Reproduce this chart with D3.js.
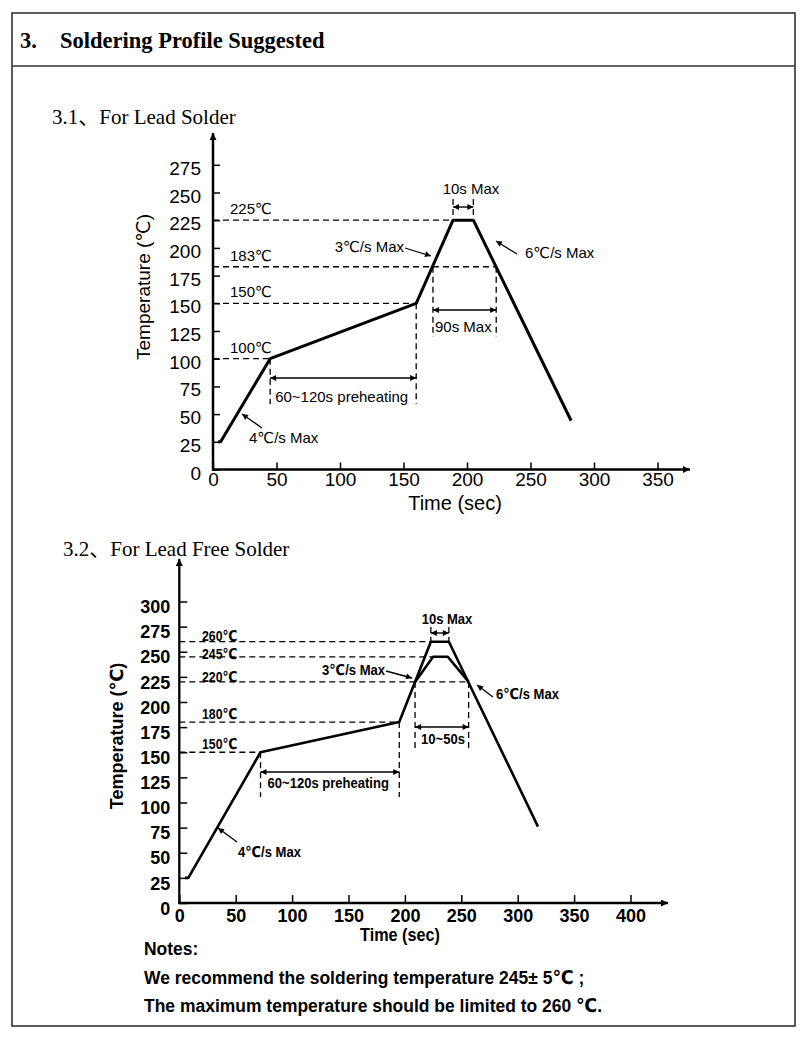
<!DOCTYPE html>
<html><head><meta charset="utf-8">
<script src="https://cdn.jsdelivr.net/npm/d3@7/dist/d3.min.js"></script>
<style>body{margin:0;background:#fff}svg{display:block}</style>
</head><body>
<svg id="c" width="800" height="1038"></svg>
<script>
// ---------------- DATA ----------------
// 3.1 Lead solder
const leadYTicks = [0, 25, 50, 75, 100, 125, 150, 175, 200, 225, 250, 275];
const leadXTicks = [0, 50, 100, 150, 200, 250, 300, 350];
const leadTime = [4, 6, 45, 160, 189, 205, 282];
const leadTemp = [25, 25, 100, 150, 225, 225, 44];
const leadGuideTemps = [225, 183, 150, 100];
const leadGuideEnds = [189, 223, 160, 45];
const leadGuideLabels = ["225℃", "183℃", "150℃", "100℃"];
const leadPreheat = [45, 160];      // s
const leadLiquidus = [173.2, 223];  // s, 183℃ crossings
const leadPeak = [189, 205];        // s
const leadTexts = ["60~120s preheating", "90s Max", "10s Max", "3℃/s Max", "6℃/s Max", "4℃/s Max"];

// 3.2 Lead free solder
const freeYTicks = [0, 25, 50, 75, 100, 125, 150, 175, 200, 225, 250, 275, 300];
const freeXTicks = [0, 50, 100, 150, 200, 250, 300, 350, 400];
const freeOuterTime = [5, 8, 72, 195, 223, 239, 318];
const freeOuterTemp = [25, 25, 150, 180, 260, 260, 76];
const freeInnerTime = [209, 225, 238, 256.5];
const freeInnerTemp = [220, 245, 245, 220];
const freeGuideTemps = [260, 245, 220, 180, 150];
const freeGuideEnds = [223, 225, 256.5, 195, 72];
const freeGuideLabels = ["260℃", "245℃", "220℃", "180℃", "150℃"];
const freePreheat = [72, 195];
const freeLiquidus = [209, 256.5];
const freePeak = [223, 239];
const freeTexts = ["60~120s preheating", "10~50s", "10s Max", "3℃/s Max", "6℃/s Max", "4℃/s Max"];

const notes = ["Notes:", "We recommend the soldering temperature 245± 5℃ ;", "The maximum temperature should be limited to 260 ℃."];

// ---------------- DRAW ----------------
const svg = d3.select('#c');
const defs = svg.append('defs');
function marker(id, w, h) {
  defs.append('marker').attr('id', id).attr('viewBox', '0 0 10 10')
    .attr('refX', 10).attr('refY', 5).attr('markerUnits', 'userSpaceOnUse')
    .attr('markerWidth', w).attr('markerHeight', h).attr('orient', 'auto-start-reverse')
    .append('path').attr('d', 'M0,0L10,5L0,10z').attr('fill', '#000');
}
marker('ax', 10, 7); marker('dim', 7, 6);

const SANS = "'Liberation Sans', Arial, 'DejaVu Sans', sans-serif";
const SERIF = "'Liberation Serif', 'Times New Roman', 'Noto Sans CJK SC', serif";

// frame
svg.append('rect').attr('x', 12).attr('y', 13).attr('width', 783).attr('height', 1013)
  .attr('fill', 'none').attr('stroke', '#333').attr('stroke-width', 1.6);
svg.append('line').attr('x1', 12).attr('x2', 795).attr('y1', 66).attr('y2', 66)
  .attr('stroke', '#333').attr('stroke-width', 1.6);
const hdr = svg.append('text').attr('y', 48).attr('font-family', SERIF).attr('font-weight', 'bold')
  .attr('font-size', 22.5);
hdr.append('tspan').attr('x', 20).text('3.');
hdr.append('tspan').attr('x', 60).text('Soldering Profile Suggested');

function hline(g, x1, x2, yy) {
  g.append('line').attr('x1', x1).attr('x2', x2).attr('y1', yy).attr('y2', yy)
    .attr('stroke', '#000').attr('stroke-width', 1.3).attr('stroke-dasharray', '6,4');
}
function vline(g, xx, y1, y2) {
  g.append('line').attr('x1', xx).attr('x2', xx).attr('y1', y1).attr('y2', y2)
    .attr('stroke', '#000').attr('stroke-width', 1.3).attr('stroke-dasharray', '6,4');
}
function dimArrow(g, x1, x2, yy) {
  g.append('line').attr('x1', x1).attr('x2', x2).attr('y1', yy).attr('y2', yy)
    .attr('stroke', '#000').attr('stroke-width', 1.4)
    .attr('marker-start', 'url(#dim)').attr('marker-end', 'url(#dim)');
}
function pointer(g, x1, y1, x2, y2) {
  g.append('line').attr('x1', x1).attr('y1', y1).attr('x2', x2).attr('y2', y2)
    .attr('stroke', '#000').attr('stroke-width', 1.3).attr('marker-end', 'url(#dim)');
}
function label(g, txt, xx, yy, opt) {
  const sx = opt.sx || 1;
  return g.append('text').attr('x', 0).attr('y', 0).text(txt)
    .attr('transform', `translate(${xx},${yy}) scale(${sx},1)`)
    .attr('font-family', opt.family).attr('font-size', opt.size)
    .attr('font-weight', opt.weight || 'normal').attr('text-anchor', opt.anchor || 'start')
    .attr('fill', '#000');
}

// ===== Chart 1 =====
{
  const g = svg.append('g');
  const x = d3.scaleLinear().domain([0, 350]).range([213, 657.5]);
  const y = d3.scaleLinear().domain([0, 275]).range([469.5, 164.8]);
  const f = {family: SANS, size: 15};

  label(g, '3.1、For Lead Solder', 52, 124, {family: SERIF, size: 21});

  leadGuideTemps.forEach((t, i) => {
    hline(g, x(0), x(leadGuideEnds[i]), y(t));
    label(g, leadGuideLabels[i], 230, y(t) - 6, f);
  });
  vline(g, x(leadPreheat[0]), y(100), 404);
  vline(g, x(leadPreheat[1]), y(150), 404);
  dimArrow(g, x(leadPreheat[0]), x(leadPreheat[1]), 378);
  label(g, leadTexts[0], x(leadPreheat[0]) + 5, 402, f);

  vline(g, x(leadLiquidus[0]), y(183), 337);
  vline(g, x(leadLiquidus[1]), y(183), 337);
  dimArrow(g, x(leadLiquidus[0]), x(leadLiquidus[1]), 310);
  label(g, leadTexts[1], x(leadLiquidus[0]) + 2, 332, f);

  vline(g, x(leadPeak[0]), 199, y(225));
  vline(g, x(leadPeak[1]), 199, y(225));
  dimArrow(g, x(leadPeak[0]), x(leadPeak[1]), 207);
  label(g, leadTexts[2], 471, 194, {family: SANS, size: 15, anchor: 'middle'});

  label(g, leadTexts[3], 404, 252, {family: SANS, size: 15, anchor: 'end'});
  pointer(g, 405, 248, 431, 256);
  label(g, leadTexts[4], 525, 258, f);
  pointer(g, 517, 254, 496, 241);
  label(g, leadTexts[5], 249, 443, f);
  pointer(g, 262, 428, 242, 414);

  const pts = leadTime.map((t, i) => [t, leadTemp[i]]);
  g.append('path').attr('d', d3.line().x(d => x(d[0])).y(d => y(d[1]))(pts))
    .attr('fill', 'none').attr('stroke', '#000').attr('stroke-width', 3).attr('stroke-linejoin', 'round');

  const ya = g.append('g').attr('transform', `translate(${x(0)},0)`)
    .call(d3.axisLeft(y).tickValues(leadYTicks).tickSize(-7).tickPadding(12));
  const xa = g.append('g').attr('transform', `translate(0,${y(0)})`)
    .call(d3.axisBottom(x).tickValues(leadXTicks).tickSize(-7).tickPadding(3));
  [ya, xa].forEach(a => {
    a.select('.domain').remove();
    a.selectAll('line').attr('stroke', '#000').attr('stroke-width', 1.5);
    a.selectAll('text').attr('font-family', SANS).attr('font-size', 19).attr('fill', '#000');
  });
  ya.selectAll('text').attr('dy', '0.5em');
  g.append('line').attr('x1', x(0)).attr('x2', x(0)).attr('y1', y(0) + 1).attr('y2', 133)
    .attr('stroke', '#000').attr('stroke-width', 2.5).attr('marker-end', 'url(#ax)');
  g.append('line').attr('x1', x(0) - 1).attr('x2', 690).attr('y1', y(0)).attr('y2', y(0))
    .attr('stroke', '#000').attr('stroke-width', 2.5).attr('marker-end', 'url(#ax)');
  label(g, 'Time (sec)', 455, 510, {family: SANS, size: 20, anchor: 'middle'});
  label(g, 'Temperature (℃)', 0, 0, {family: SANS, size: 19, anchor: 'middle'})
    .attr('transform', 'translate(150,287) rotate(-90)');
}

// ===== Chart 2 =====
{
  const g = svg.append('g');
  const x = d3.scaleLinear().domain([0, 400]).range([179.3, 630.5]);
  const y = d3.scaleLinear().domain([0, 300]).range([903, 601.5]);
  const N = 0.87;
  const f = {family: SANS, size: 15, weight: 'bold', sx: N};

  label(g, '3.2、For Lead Free Solder', 63, 556, {family: SERIF, size: 21});

  const labelDy = [-1, 2.5, 0.5, -3, -3];
  freeGuideTemps.forEach((t, i) => {
    hline(g, x(0), x(freeGuideEnds[i]), y(t));
    label(g, freeGuideLabels[i], 202, y(t) + labelDy[i], {family: SANS, size: 15, weight: 'bold', sx: 0.82});
  });
  vline(g, x(freePreheat[0]), y(150), 797);
  vline(g, x(freePreheat[1]), y(180), 797);
  dimArrow(g, x(freePreheat[0]), x(freePreheat[1]), 772);
  label(g, freeTexts[0], x(freePreheat[0]) + 7, 788, f);

  vline(g, x(freeLiquidus[0]), y(220), 748);
  vline(g, x(freeLiquidus[1]), y(220), 748);
  dimArrow(g, x(freeLiquidus[0]), x(freeLiquidus[1]), 727);
  label(g, freeTexts[1], x(freeLiquidus[0]) + 6, 744, f);

  vline(g, x(freePeak[0]), 627, y(260));
  vline(g, x(freePeak[1]), 627, y(260));
  dimArrow(g, x(freePeak[0]), x(freePeak[1]), 633);
  label(g, freeTexts[2], 447, 624, {family: SANS, size: 15, weight: 'bold', anchor: 'middle', sx: N});

  label(g, freeTexts[3], 385, 675, {family: SANS, size: 15, weight: 'bold', anchor: 'end', sx: N});
  pointer(g, 386, 671, 412, 678);
  label(g, freeTexts[4], 496, 699, f);
  pointer(g, 493, 697, 477, 685);
  label(g, freeTexts[5], 238, 857, f);
  pointer(g, 237, 842, 218, 828);

  const line = d3.line().x(d => x(d[0])).y(d => y(d[1]));
  const outer = freeOuterTime.map((t, i) => [t, freeOuterTemp[i]]);
  const inner = freeInnerTime.map((t, i) => [t, freeInnerTemp[i]]);
  [outer, inner].forEach(p => g.append('path').attr('d', line(p)).attr('fill', 'none')
    .attr('stroke', '#000').attr('stroke-width', 2.6).attr('stroke-linejoin', 'round'));

  const ya = g.append('g').attr('transform', `translate(${x(0)},0)`)
    .call(d3.axisLeft(y).tickValues(freeYTicks).tickSize(-8).tickPadding(9));
  const xa = g.append('g').attr('transform', `translate(0,${y(0)})`)
    .call(d3.axisBottom(x).tickValues(freeXTicks).tickSize(-8).tickPadding(6));
  [ya, xa].forEach(a => {
    a.select('.domain').remove();
    a.selectAll('line').attr('stroke', '#000').attr('stroke-width', 1.5);
    a.selectAll('text').attr('font-family', SANS).attr('font-size', 18).attr('font-weight', 'bold').attr('fill', '#000');
  });
  ya.selectAll('text').attr('dy', '0.62em');
  g.append('line').attr('x1', x(0)).attr('x2', x(0)).attr('y1', y(0) + 1).attr('y2', 559)
    .attr('stroke', '#000').attr('stroke-width', 2.3).attr('marker-end', 'url(#ax)');
  g.append('line').attr('x1', x(0) - 1).attr('x2', 668).attr('y1', y(0)).attr('y2', y(0))
    .attr('stroke', '#000').attr('stroke-width', 2.3).attr('marker-end', 'url(#ax)');
  label(g, 'Time (sec)', 400, 941, {family: SANS, size: 18, weight: 'bold', anchor: 'middle', sx: 0.9});
  label(g, 'Temperature (℃)', 0, 0, {family: SANS, size: 18, weight: 'bold', anchor: 'middle'})
    .attr('transform', 'translate(123,736) rotate(-90)');

  const nf = {family: SANS, size: 19, weight: 'bold', sx: 0.92};
  label(g, notes[0], 144, 955, nf);
  label(g, notes[1], 144, 984, nf);
  label(g, notes[2], 144, 1012, nf);
}
</script>
</body></html>
